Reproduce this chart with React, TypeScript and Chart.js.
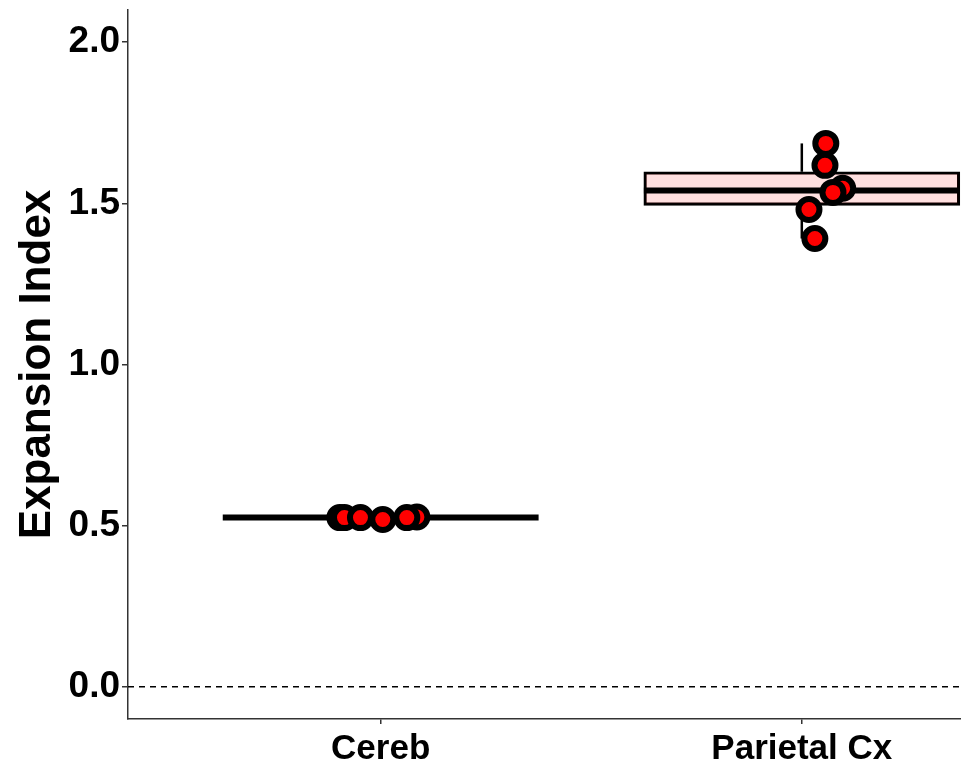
import React, { useEffect, useRef } from "react";
import { Chart, registerables } from "chart.js";

Chart.register(...registerables);

// ---- data ----
const categories = ["Cereb", "Parietal Cx"];
const categoryPositions = [1, 2];

// box statistics per category
const boxQ1 = [0.525, 1.494];
const boxMedian = [0.525, 1.54];
const boxQ3 = [0.525, 1.598];
const whiskerLow = [0.519, 1.391];
const whiskerHigh = [0.527, 1.686];

// jittered individual points (in drawing order)
const cerebPointX = [0.903, 0.914, 1.086, 0.952, 1.005, 1.062];
const cerebPointY = [0.525, 0.525, 0.527, 0.525, 0.519, 0.525];
const parietalPointX = [2.057, 2.055, 2.097, 2.074, 2.017, 2.031];
const parietalPointY = [1.686, 1.618, 1.547, 1.534, 1.481, 1.391];

const yTicks = [0, 0.5, 1.0, 1.5, 2.0];
const yRange = [-0.1, 2.1];
const xRange = [0.4, 2.378];
const refLineY = 0;
const boxHalfWidth = 0.375;

const FONT = "'Liberation Sans', Arial, Helvetica, sans-serif";

export default function App() {
  const canvasRef = useRef<HTMLCanvasElement | null>(null);

  useEffect(() => {
    document.body.style.margin = "0";
    const canvas = canvasRef.current;
    if (!canvas) return;

    const datasets: any[] = [];

    // reference dashed line at 0
    datasets.push({
      type: "line",
      data: [
        { x: xRange[0], y: refLineY },
        { x: xRange[1], y: refLineY },
      ],
      borderColor: "#000",
      borderWidth: 1.3,
      borderDash: [6, 5],
      pointRadius: 0,
      order: 10,
    });

    // boxes (floating bars)
    datasets.push({
      type: "bar",
      data: categoryPositions.map((x, i) => ({ x, y: [boxQ1[i], boxQ3[i]] })),
      backgroundColor: "rgba(255,0,0,0.12)",
      borderColor: "#000",
      borderWidth: 2.5,
      borderSkipped: false,
      barThickness: 316,
      order: 8,
    });

    // whiskers
    categoryPositions.forEach((x, i) => {
      datasets.push({
        type: "line",
        data: [
          { x, y: boxQ3[i] },
          { x, y: whiskerHigh[i] },
        ],
        borderColor: "#000",
        borderWidth: 2.5,
        pointRadius: 0,
        order: 7,
      });
      datasets.push({
        type: "line",
        data: [
          { x, y: boxQ1[i] },
          { x, y: whiskerLow[i] },
        ],
        borderColor: "#000",
        borderWidth: 2.5,
        pointRadius: 0,
        order: 7,
      });
    });

    // medians
    categoryPositions.forEach((x, i) => {
      datasets.push({
        type: "line",
        data: [
          { x: x - boxHalfWidth, y: boxMedian[i] },
          { x: x + boxHalfWidth, y: boxMedian[i] },
        ],
        borderColor: "#000",
        borderWidth: 6,
        borderCapStyle: "butt",
        pointRadius: 0,
        order: 5,
      });
    });

    // points
    const pointStyle = {
      type: "scatter",
      backgroundColor: "#ff0000",
      borderColor: "#000",
      borderWidth: 6,
      pointRadius: 10.5,
      pointHoverRadius: 10.5,
      order: 1,
    };
    datasets.push({
      ...pointStyle,
      data: cerebPointX.map((x, i) => ({ x, y: cerebPointY[i] })),
    });
    datasets.push({
      ...pointStyle,
      data: parietalPointX.map((x, i) => ({ x, y: parietalPointY[i] })),
    });

    const chart = new Chart(canvas, {
      type: "scatter",
      data: { datasets },
      options: {
        animation: false,
        responsive: false,
        maintainAspectRatio: false,
        layout: { autoPadding: false, padding: { top: 10, right: 0, left: 0, bottom: 0 } },
        plugins: {
          legend: { display: false },
          tooltip: { enabled: false },
        },
        scales: {
          x: {
            type: "linear",
            offset: false,
            min: xRange[0],
            max: xRange[1],
            afterBuildTicks: (scale: any) => {
              scale.ticks = categoryPositions.map((v) => ({ value: v }));
            },
            afterFit: (scale: any) => {
              scale.height = 47;
              scale.paddingLeft = 0;
              scale.paddingRight = 0;
            },
            ticks: {
              autoSkip: false,
              maxRotation: 0,
              padding: 4,
              color: "#000",
              font: { family: FONT, size: 35, weight: "bold" },
              callback: (value: any) => {
                const idx = categoryPositions.indexOf(Number(value));
                return idx >= 0 ? categories[idx] : "";
              },
            },
            grid: {
              offset: false,
              drawOnChartArea: false,
              tickLength: 5,
              color: "#333",
              lineWidth: 1.5,
            },
            border: { display: true, color: "#333", width: 1.5 },
          },
          y: {
            type: "linear",
            min: yRange[0],
            max: yRange[1],
            afterBuildTicks: (scale: any) => {
              scale.ticks = yTicks.map((v) => ({ value: v }));
            },
            afterFit: (scale: any) => {
              scale.width = 128;
              scale.paddingTop = 0;
              scale.paddingBottom = 0;
            },
            ticks: {
              padding: 2,
              color: "#000",
              font: { family: FONT, size: 37, weight: "bold" },
              callback: (value: any) => Number(value).toFixed(1),
            },
            grid: {
              drawOnChartArea: false,
              tickLength: 6,
              color: "#333",
              lineWidth: 1.5,
            },
            border: { display: true, color: "#333", width: 1.5 },
            title: {
              display: true,
              text: "Expansion Index",
              color: "#000",
              font: { family: FONT, size: 44, weight: "bold" },
              padding: { top: 11, bottom: 0 },
            },
          },
        },
      },
    } as any);

    return () => chart.destroy();
  }, []);

  return (
    <div style={{ position: "fixed", left: 0, top: 0, width: 961, height: 766, background: "#fff" }}>
      <canvas ref={canvasRef} width={961} height={766} />
    </div>
  );
}
